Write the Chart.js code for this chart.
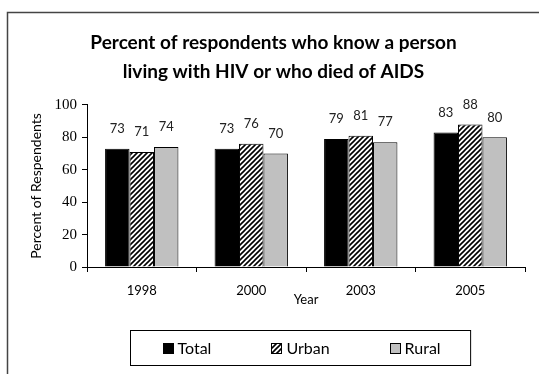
<!DOCTYPE html>
<html>
<head>
<meta charset="utf-8">
<script src="https://cdn.jsdelivr.net/npm/chart.js@4/dist/chart.umd.min.js"></script>
<style>
  html, body { margin: 0; padding: 0; background: #fff; }
  #wrap { width: 539px; height: 374px; }
</style>
</head>
<body>
<div id="wrap"><canvas id="hiv-chart" width="539" height="374"></canvas></div>
<script>
const years = ['1998', '2000', '2003', '2005'];
const totalValues = [73, 73, 79, 83];
const urbanValues = [71, 76, 81, 88];
const ruralValues = [74, 70, 77, 80];
const yTicks = [0, 20, 40, 60, 80, 100];
const seriesNames = ['Total', 'Urban', 'Rural'];

const humanist = 'Lato, "Open Sans", sans-serif';

// diagonal hatch for the urban bars
function makeHatch() {
  const s = 5;
  const c = document.createElement('canvas');
  c.width = s;
  c.height = s;
  const g = c.getContext('2d');
  g.fillStyle = '#fff';
  g.fillRect(0, 0, s, s);
  g.strokeStyle = '#000';
  g.lineWidth = 1.6;
  g.beginPath();
  g.moveTo(-1, s + 1);
  g.lineTo(s + 1, -1);
  g.moveTo(-1, 1);
  g.lineTo(1, -1);
  g.moveTo(s - 1, s + 1);
  g.lineTo(s + 1, s - 1);
  g.stroke();
  return g.createPattern(c, 'repeat');
}

const ctx = document.getElementById('hiv-chart').getContext('2d');
const hatch = makeHatch();
const fills = ['#000', hatch, '#c0c0c0'];

const framePlugin = {
  id: 'frame',
  beforeDraw(chart) {
    const c = chart.ctx;
    c.save();
    c.fillStyle = '#fff';
    c.fillRect(0, 0, chart.width, chart.height);
    c.strokeStyle = '#444';
    c.lineWidth = 1.5;
    c.strokeRect(7.5, 12.5, chart.width + 20, chart.height + 20);
    c.restore();
  }
};

const valueLabels = {
  id: 'valueLabels',
  afterDatasetsDraw(chart) {
    const c = chart.ctx;
    c.save();
    c.font = '13px ' + humanist;
    c.fillStyle = '#222';
    c.textAlign = 'center';
    c.textBaseline = 'middle';
    chart.data.datasets.forEach((ds, i) => {
      chart.getDatasetMeta(i).data.forEach((bar, j) => {
        c.fillText(String(ds.data[j]), bar.x, bar.y - 20);
      });
    });
    c.restore();
  }
};

const boxedLegend = {
  id: 'boxedLegend',
  afterDraw(chart) {
    const c = chart.ctx;
    c.save();
    c.font = '16px ' + humanist;
    const sw = 11, gapText = 4, gapItem = 60;
    const widths = seriesNames.map((n) => sw + gapText + c.measureText(n).width);
    const inner = widths.reduce((a, b) => a + b, 0) + gapItem * (seriesNames.length - 1);
    const padL = 32, padR = 30;
    const cx = 300;
    const boxW = inner + padL + padR;
    const left = Math.round(cx - boxW / 2) + 0.5;
    const top = 330.5, h = 35;
    c.strokeStyle = '#000';
    c.lineWidth = 1;
    c.strokeRect(left, top, boxW, h);
    let x = left + padL;
    const midY = top + h / 2;
    seriesNames.forEach((n, i) => {
      const sy = Math.round(midY - sw / 2) + 0.5;
      c.fillStyle = fills[i];
      c.fillRect(Math.round(x) + 0.5, sy, sw - 1, sw - 1);
      c.strokeStyle = '#000';
      c.strokeRect(Math.round(x) + 0.5, sy, sw - 1, sw - 1);
      c.fillStyle = '#000';
      c.textBaseline = 'middle';
      c.textAlign = 'left';
      c.fillText(n, x + sw + gapText, midY + 1);
      x += widths[i] + gapItem;
    });
    c.restore();
  }
};

new Chart(ctx, {
  type: 'bar',
  data: {
    labels: years,
    datasets: [
      { label: seriesNames[0], data: totalValues, backgroundColor: fills[0], borderColor: '#000', borderWidth: 1 },
      { label: seriesNames[1], data: urbanValues, backgroundColor: fills[1], borderColor: '#000', borderWidth: 1 },
      { label: seriesNames[2], data: ruralValues, backgroundColor: fills[2], borderColor: '#000', borderWidth: 1 },
    ],
  },
  options: {
    responsive: false,
    animation: false,
    layout: { padding: { left: 22, right: 14, top: 0, bottom: 66 } },
    datasets: { bar: { categoryPercentage: 0.67, barPercentage: 1 } },
    plugins: {
      legend: { display: false },
      tooltip: { enabled: false },
      title: {
        display: true,
        text: ['Percent of respondents who know a person', 'living with HIV or who died of AIDS'],
        color: '#000',
        font: { family: humanist, size: 19, weight: 'bold', lineHeight: 1.52 },
        padding: { top: 28.6, bottom: 18.6 },
      },
    },
    scales: {
      x: {
        grid: { display: true, drawOnChartArea: false, offset: true, tickLength: 5, color: '#000' },
        border: { color: '#000' },
        ticks: { color: '#000', padding: 11, font: { family: humanist, size: 13 } },
        title: { display: true, text: 'Year', color: '#000', font: { family: humanist, size: 13 }, padding: { top: 0, bottom: 0 } },
        afterFit: (s) => { s.height = 41; },
      },
      y: {
        min: 0,
        max: 100,
        afterBuildTicks: (s) => { s.ticks = yTicks.map((v) => ({ value: v })); },
        grid: { display: true, drawOnChartArea: false, tickLength: 5, color: '#000' },
        border: { color: '#000' },
        ticks: { color: '#000', padding: 5, font: { family: '"Liberation Serif", "Times New Roman", serif', size: 15 } },
        title: { display: true, text: 'Percent of Respendents', color: '#000', font: { family: humanist, size: 14 }, padding: { top: 6, bottom: 0 } },
        afterFit: (s) => { s.width = 65; },
      },
    },
  },
  plugins: [framePlugin, valueLabels, boxedLegend],
});
</script>
</body>
</html>
